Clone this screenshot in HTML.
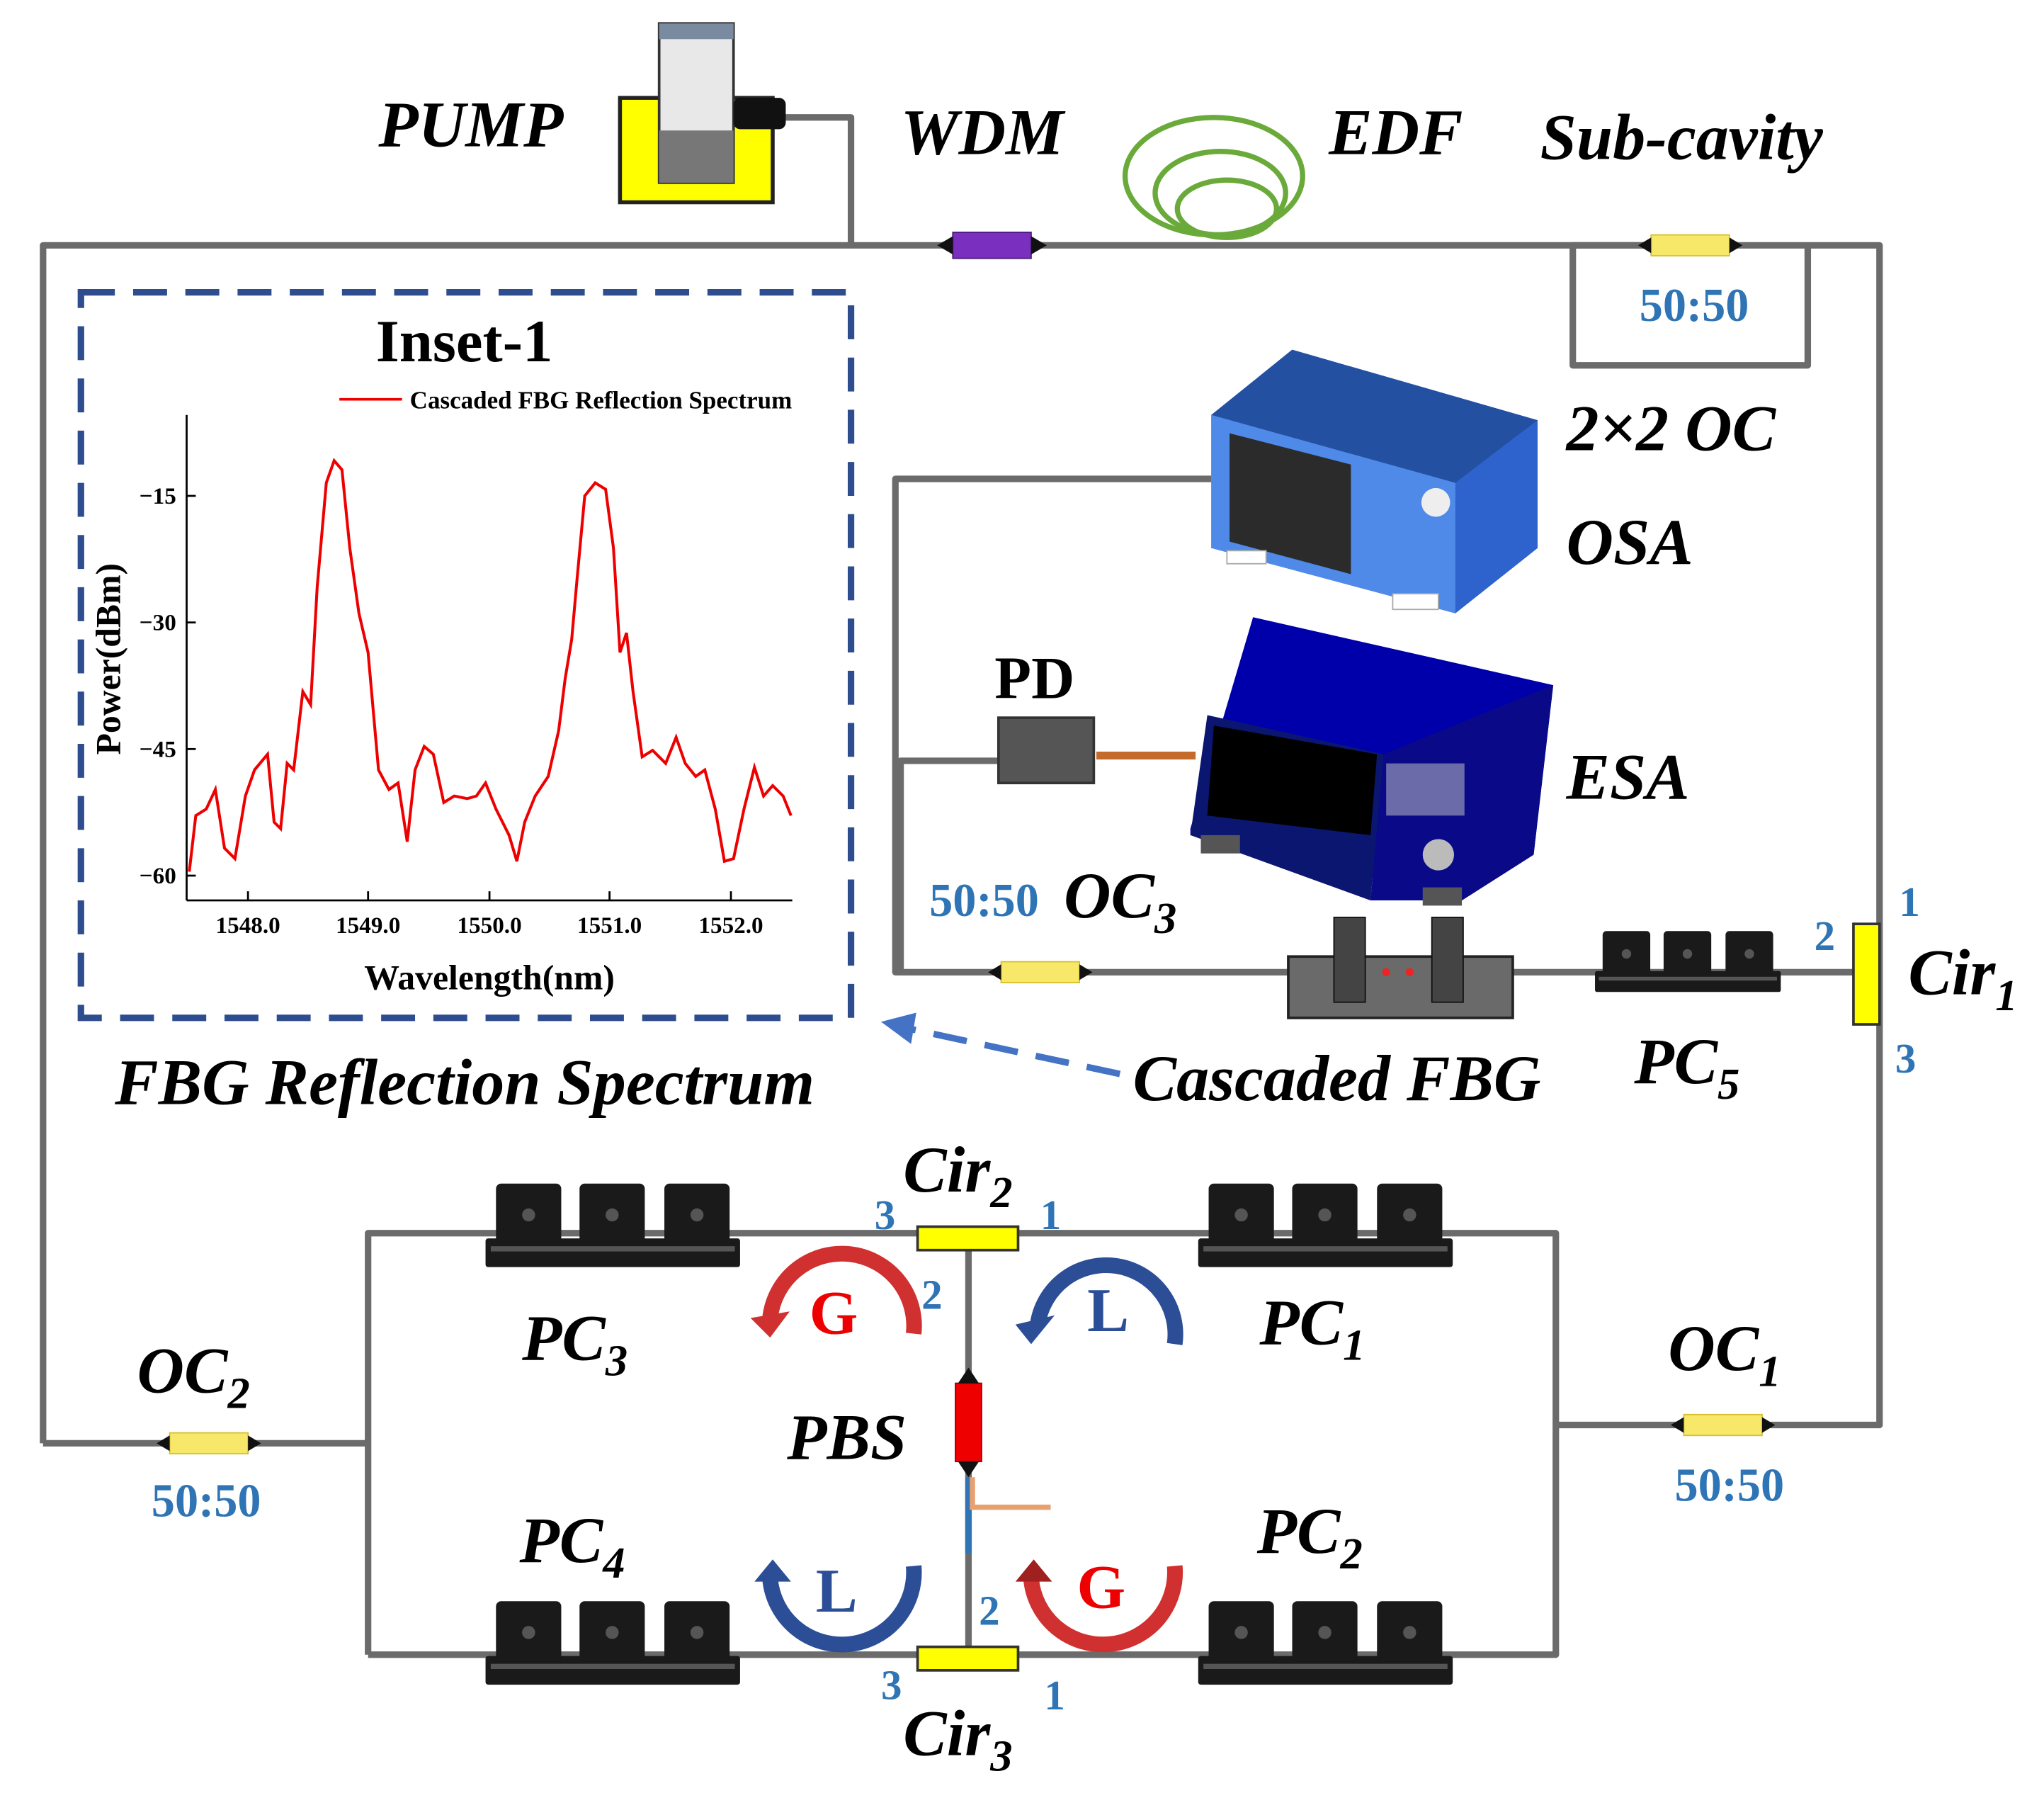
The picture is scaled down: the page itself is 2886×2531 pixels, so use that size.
<!DOCTYPE html>
<html><head><meta charset="utf-8"><style>
html,body{margin:0;padding:0;background:#fff}
svg{display:block}
text{font-family:"Liberation Serif",serif;font-weight:bold}
.it{font-style:italic}
.bl{fill:#2f75b5}
</style></head><body>
<svg width="2886" height="2531" viewBox="0 0 1566 1374" preserveAspectRatio="none" xmlns="http://www.w3.org/2000/svg">
<defs>
<g id="pc">
 <g fill="#1a1a1a">
  <rect x="8" y="2" width="50" height="48" rx="4"/>
  <rect x="72" y="2" width="50" height="48" rx="4"/>
  <rect x="137" y="2" width="50" height="48" rx="4"/>
  <rect x="0" y="44" width="195" height="22" rx="2"/>
 </g>
 <g fill="#555"><circle cx="33" cy="26" r="5"/><circle cx="97" cy="26" r="5"/><circle cx="162" cy="26" r="5"/>
 <rect x="4" y="50" width="187" height="4"/></g>
</g>
<g id="cp">
 <rect x="0" y="-8" width="60" height="16" fill="#f8e86a" stroke="#d6c030"/>
 <polygon points="-10,0 0,-6 0,6" fill="#111"/><polygon points="70,0 60,-6 60,6" fill="#111"/>
</g>
</defs>
<g stroke="#6b6b6b" stroke-width="5" fill="none" stroke-linejoin="round">
 <polyline points="33,1106 33,188 1440,188 1440,1092 1192,1092"/>
 <polyline points="600,90 652,90 652,188"/>
 <polyline points="1265,188 1205,188 1205,280 1385,280 1385,188"/>
 <polyline points="928,367 686,367 686,745 1420,745"/>
 <polyline points="765,583 690,583 690,745"/>
 <polyline points="33,1106 282,1106"/>
 <polyline points="282,1268 282,945 1192,945 1192,1268 282,1268"/>
 <line x1="742" y1="958" x2="742" y2="1262"/>
</g>
<rect x="475" y="75" width="117" height="80" fill="#ffff00" stroke="#222" stroke-width="3"/>
<rect x="505" y="18" width="57" height="122" fill="#e8e8e8" stroke="#333" stroke-width="2"/>
<rect x="505" y="18" width="57" height="12" fill="#7a8aa0"/>
<rect x="505" y="100" width="57" height="40" fill="#777"/>
<rect x="562" y="75" width="40" height="24" rx="5" fill="#111"/>
<rect x="730" y="178" width="60" height="20" fill="#7b2fbe" stroke="#4a1a80"/>
<polygon points="718,188 730,181 730,195" fill="#111"/><polygon points="802,188 790,181 790,195" fill="#111"/>
<g fill="none" stroke="#6aaa3a" stroke-width="4">
<ellipse cx="930" cy="135" rx="68" ry="45"/><ellipse cx="935" cy="148" rx="50" ry="32"/><ellipse cx="940" cy="160" rx="38" ry="22"/></g>
<use href="#cp" x="1265" y="188"/>
<text x="1298" y="246" font-size="36" class="bl" text-anchor="middle">50:50</text>
<text x="290" y="112" font-size="50" class="it">PUMP</text>
<text x="690" y="118" font-size="50" class="it">WDM</text>
<text x="1018" y="118" font-size="50" class="it">EDF</text>
<text x="1180" y="122" font-size="50" class="it">Sub-cavity</text>
<text x="1200" y="345" font-size="50" class="it">2×2 OC</text>
<text x="1200" y="432" font-size="50" class="it">OSA</text>
<text x="1200" y="612" font-size="50" class="it">ESA</text>
<polygon points="928,318 990,268 1178,322 1178,420 1115,470 928,420" fill="#3b73d6"/>
<polygon points="928,318 990,268 1178,322 1115,370" fill="#2350a0"/>
<polygon points="1115,370 1178,322 1178,420 1115,470" fill="#2e62cc"/>
<polygon points="928,318 1115,370 1115,470 928,420" fill="#4f8ae8"/>
<polygon points="942,332 1035,356 1035,440 942,415" fill="#2b2b2b"/>
<circle cx="1100" cy="385" r="11" fill="#eee"/>
<rect x="940" y="422" width="30" height="10" fill="#fff" stroke="#aaa"/>
<rect x="1067" y="455" width="35" height="12" fill="#fff" stroke="#aaa"/>
<polygon points="912,635 960,473 1190,525 1175,655 1120,690 912,640" fill="#0000aa"/>
<polygon points="912,640 925,548 1060,578 1050,690" fill="#0a1670"/>
<polygon points="1050,690 1060,578 1190,525 1175,655 1120,690" fill="#0a0a88"/>
<polygon points="930,556 1055,578 1050,640 925,625" fill="#000"/>
<circle cx="1102" cy="655" r="12" fill="#bbb"/>
<rect x="1062" y="585" width="60" height="40" fill="#ccc" opacity=".5"/>
<rect x="920" y="640" width="30" height="14" fill="#555"/><rect x="1090" y="680" width="30" height="14" fill="#555"/>
<rect x="765" y="550" width="73" height="50" fill="#555" stroke="#333" stroke-width="2"/>
<text x="762" y="535" font-size="46">PD</text>
<line x1="840" y1="579" x2="916" y2="579" stroke="#c46a2a" stroke-width="6"/>
<use href="#cp" x="767" y="745"/>
<text x="712" y="702" font-size="36" class="bl">50:50</text>
<text x="815" y="703" font-size="50" class="it">OC<tspan font-size="34" dy="12">3</tspan></text>
<rect x="987" y="733" width="172" height="47" fill="#6a6a6a" stroke="#222" stroke-width="2"/>
<rect x="1022" y="703" width="24" height="65" fill="#444" stroke="#111"/>
<rect x="1097" y="703" width="24" height="65" fill="#444" stroke="#111"/>
<circle cx="1062" cy="745" r="3" fill="#e22"/><circle cx="1080" cy="745" r="3" fill="#e22"/>
<g transform="translate(1222 712) scale(.73)"><use href="#pc"/></g>
<rect x="1420" y="708" width="20" height="77" fill="#ffff00" stroke="#333" stroke-width="2"/>
<text x="1455" y="702" font-size="32" class="bl">1</text>
<text x="1390" y="728" font-size="32" class="bl">2</text>
<text x="1452" y="822" font-size="32" class="bl">3</text>
<text x="1462" y="762" font-size="50" class="it">Cir<tspan font-size="34" dy="12">1</tspan></text>
<text x="1252" y="830" font-size="50" class="it">PC<tspan font-size="34" dy="12">5</tspan></text>
<text x="868" y="843" font-size="50" class="it">Cascaded FBG</text>
<text x="88" y="846" font-size="50" class="it">FBG Reflection Spectrum</text>
<line x1="858" y1="823" x2="695" y2="788" stroke="#4472c4" stroke-width="5" stroke-dasharray="26,14"/>
<polygon points="675,783 702,776 698,800" fill="#4472c4"/>
<rect x="62" y="224" width="590" height="556" fill="none" stroke="#2e4d8f" stroke-width="5" stroke-dasharray="26,14"/>
<text x="288" y="277" font-size="46">Inset-1</text>
<line x1="260" y1="306" x2="308" y2="306" stroke="#e00" stroke-width="2"/>
<text x="314" y="313" font-size="19">Cascaded FBG Reflection Spectrum</text>
<g stroke="#000" stroke-width="1.5"><line x1="143" y1="318" x2="143" y2="690"/><line x1="143" y1="690" x2="607" y2="690"/>
<line x1="143" y1="380" x2="150" y2="380"/><line x1="143" y1="477" x2="150" y2="477"/><line x1="143" y1="574" x2="150" y2="574"/><line x1="143" y1="671" x2="150" y2="671"/>
<line x1="190" y1="690" x2="190" y2="683"/><line x1="282" y1="690" x2="282" y2="683"/><line x1="375" y1="690" x2="375" y2="683"/><line x1="467" y1="690" x2="467" y2="683"/><line x1="560" y1="690" x2="560" y2="683"/></g>
<g font-size="18" text-anchor="end"><text x="135" y="386">−15</text><text x="135" y="483">−30</text><text x="135" y="580">−45</text><text x="135" y="677">−60</text></g>
<g font-size="18" text-anchor="middle"><text x="190" y="715">1548.0</text><text x="282" y="715">1549.0</text><text x="375" y="715">1550.0</text><text x="467" y="715">1551.0</text><text x="560" y="715">1552.0</text></g>
<text x="375" y="758" font-size="27" text-anchor="middle">Wavelength(nm)</text>
<text transform="translate(92 505) rotate(-90)" font-size="27" text-anchor="middle">Power(dBm)</text>
<polyline fill="none" stroke="#e00" stroke-width="2.2" points="145,668 150,625 158,620 165,605 172,650 180,658 188,610 195,590 205,578 210,630 215,635 220,585 225,590 232,530 238,540 243,450 250,370 256,353 262,360 268,420 275,470 282,500 290,590 298,605 305,600 312,645 318,590 325,572 332,578 340,615 348,610 358,612 365,610 372,600 380,620 390,640 396,660 402,630 410,610 420,595 428,560 433,520 438,490 442,445 448,380 456,370 464,375 470,420 475,500 480,485 485,530 492,580 500,575 510,585 518,565 525,585 533,595 540,590 548,620 555,660 562,658 570,620 578,588 585,610 592,602 600,610 606,625"/>
<use href="#pc" x="372" y="905"/>
<use href="#pc" x="918" y="905"/>
<use href="#pc" x="372" y="1225"/>
<use href="#pc" x="918" y="1225"/>
<rect x="703" y="940" width="77" height="18" fill="#ffff00" stroke="#333" stroke-width="2"/>
<rect x="703" y="1262" width="77" height="18" fill="#ffff00" stroke="#333" stroke-width="2"/>
<rect x="732" y="1060" width="20" height="60" fill="#e00" stroke="#900"/>
<polygon points="742,1048 734,1060 750,1060" fill="#111"/><polygon points="742,1132 734,1120 750,1120" fill="#111"/>
<line x1="742" y1="1132" x2="742" y2="1190" stroke="#2f75b5" stroke-width="5"/>
<polyline points="745,1132 745,1155 805,1155" fill="none" stroke="#e8a070" stroke-width="4"/>
<use href="#cp" x="130" y="1106"/>
<use href="#cp" x="1290" y="1092"/>
<text x="158" y="1162" font-size="36" class="bl" text-anchor="middle">50:50</text>
<text x="1325" y="1150" font-size="36" class="bl" text-anchor="middle">50:50</text>
<text x="105" y="1067" font-size="50" class="it">OC<tspan font-size="34" dy="12">2</tspan></text>
<text x="1278" y="1050" font-size="50" class="it">OC<tspan font-size="34" dy="12">1</tspan></text>
<text x="400" y="1042" font-size="50" class="it">PC<tspan font-size="34" dy="12">3</tspan></text>
<text x="965" y="1030" font-size="50" class="it">PC<tspan font-size="34" dy="12">1</tspan></text>
<text x="398" y="1197" font-size="50" class="it">PC<tspan font-size="34" dy="12">4</tspan></text>
<text x="963" y="1190" font-size="50" class="it">PC<tspan font-size="34" dy="12">2</tspan></text>
<text x="603" y="1118" font-size="50" class="it">PBS</text>
<text x="692" y="913" font-size="50" class="it">Cir<tspan font-size="34" dy="12">2</tspan></text>
<text x="692" y="1345" font-size="50" class="it">Cir<tspan font-size="34" dy="12">3</tspan></text>
<g font-size="32" class="bl"><text x="670" y="942">3</text><text x="797" y="942">1</text><text x="706" y="1003">2</text>
<text x="750" y="1245">2</text><text x="675" y="1302">3</text><text x="800" y="1310">1</text></g>
<g fill="none" stroke-width="12">
<path d="M700,1022 A50,50 0 0 0 590,1010" stroke="#d03030"/>
<path d="M900,1030 A50,50 0 0 0 795,1015" stroke="#2c4e96"/>
<path d="M700,1200 A55,55 0 0 1 590,1210" stroke="#2c4e96"/>
<path d="M900,1200 A55,55 0 0 1 790,1210" stroke="#d03030"/>
</g>
<polygon points="575,1010 605,1005 590,1025" fill="#d03030"/>
<polygon points="778,1015 808,1008 790,1030" fill="#2c4e96"/>
<polygon points="578,1212 592,1195 606,1212" fill="#2c4e96"/>
<polygon points="778,1212 792,1195 806,1212" fill="#a02020"/>
<text x="620" y="1022" font-size="48" fill="#e00">G</text>
<text x="833" y="1020" font-size="48" fill="#2c4e96">L</text>
<text x="625" y="1235" font-size="48" fill="#2c4e96">L</text>
<text x="825" y="1232" font-size="48" fill="#e00">G</text>
</svg>
</body></html>
